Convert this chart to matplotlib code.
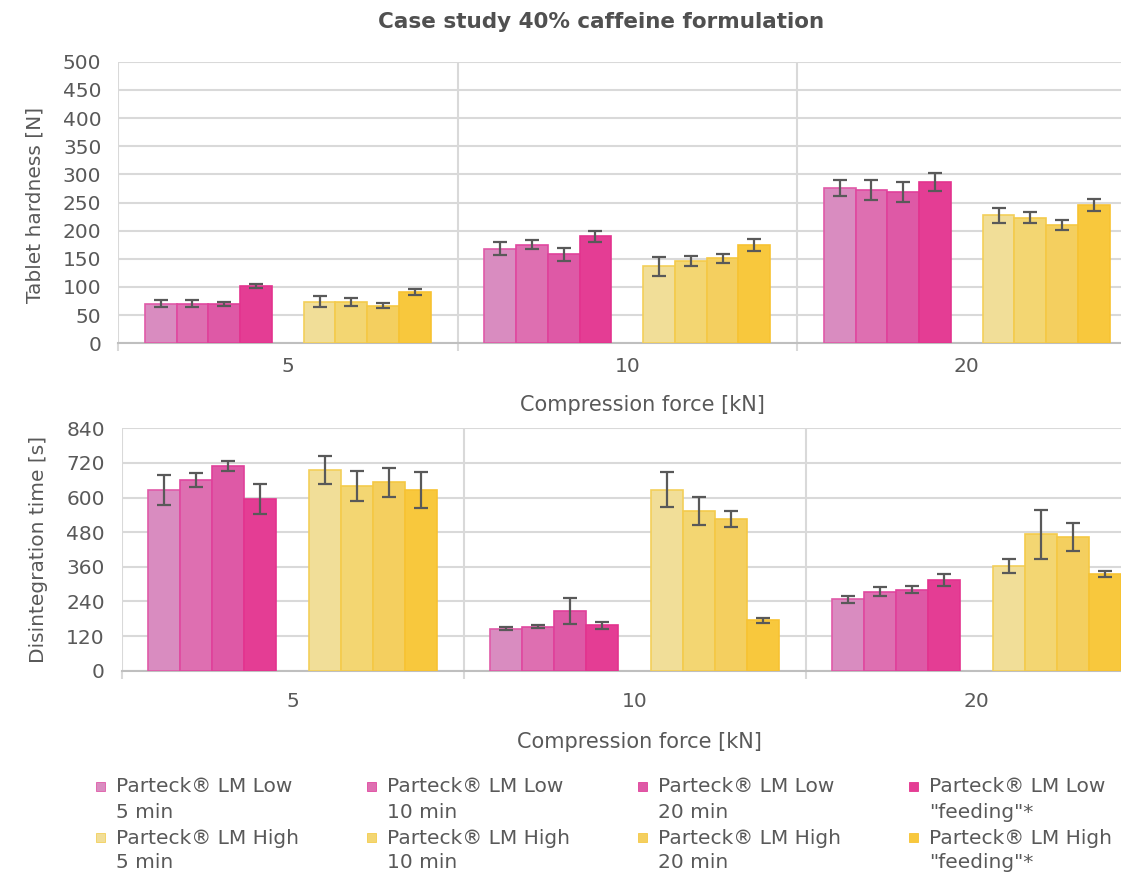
import matplotlib
matplotlib.use("Agg")
import matplotlib.pyplot as plt
from matplotlib.patches import Rectangle
import numpy as np

FIG_W, FIG_H = 1121, 874
TEXT_COLOR = "#595959"
GRID_COLOR = "#d9d9d9"
FS = 14.5

forces = ["5", "10", "20"]

series_labels = [
    "Parteck® LM Low\n5 min",
    "Parteck® LM Low\n10 min",
    "Parteck® LM Low\n20 min",
    "Parteck® LM Low\n\"feeding\"*",
    "Parteck® LM High\n5 min",
    "Parteck® LM High\n10 min",
    "Parteck® LM High\n20 min",
    "Parteck® LM High\n\"feeding\"*",
]

# tablet hardness [N], per series, for 5 / 10 / 20 kN
hardness_mean = [
    [70, 168, 276],
    [70, 175, 272],
    [70, 158, 269],
    [102, 190, 287],
    [74, 137, 227],
    [74, 146, 223],
    [67, 151, 210],
    [91, 175, 246],
]
hardness_err = [
    [6, 11, 14],
    [6, 8, 18],
    [4, 11, 18],
    [4, 10, 16],
    [10, 17, 14],
    [7, 9, 10],
    [4, 8, 9],
    [6, 11, 11],
]

# disintegration time [s]
disint_mean = [
    [627, 145, 247],
    [661, 153, 274],
    [708, 207, 281],
    [594, 158, 315],
    [695, 627, 363],
    [641, 553, 472],
    [653, 526, 464],
    [626, 175, 335],
]
disint_err = [
    [52, 5, 11],
    [25, 4, 15],
    [17, 45, 12],
    [52, 12, 21],
    [48, 61, 25],
    [52, 48, 85],
    [51, 28, 49],
    [61, 8, 11],
]

fills = ["#d98cc0", "#de6fb1", "#de59a6", "#e43d94",
         "#f1de98", "#f3d672", "#f4cf5f", "#f8c83d"]
edges = ["#e05aa8", "#e0489f", "#e0409a", "#e3338e",
         "#f3cf5a", "#f4cb4c", "#f5c844", "#f7c232"]
slots = [0, 1, 2, 3, 5, 6, 7, 8]


def px_axes(left, top, right, bottom):
    return [left / FIG_W, 1 - bottom / FIG_H, (right - left) / FIG_W, (bottom - top) / FIG_H]


def draw_panel(ax, means, errs, ymax, ystep, ylabel, xright, xpad):
    x = np.arange(len(forces))
    width = 0.0936
    for i in range(len(means)):
        off = (slots[i] - 4) * width
        ax.bar(x + off, means[i], width, color=fills[i], edgecolor=edges[i],
               linewidth=1.2, zorder=3)
        ax.errorbar(x + off, means[i], yerr=errs[i], fmt="none", ecolor="#595959",
                    elinewidth=1.6, capsize=5, capthick=1.6, zorder=4)

    ax.set_xlim(-0.5, xright)
    ax.set_ylim(0, ymax)
    ax.set_yticks(np.arange(0, ymax + 1, ystep))
    ax.set_xticks(x)
    ax.set_xticklabels(forces)
    ax.set_xticks([-0.5, 0.5, 1.5], minor=True)

    ax.yaxis.grid(True, color=GRID_COLOR, linewidth=1.5)
    ax.xaxis.grid(True, which="minor", color=GRID_COLOR, linewidth=1.5)
    ax.set_axisbelow(True)

    for s in ["top", "right", "left"]:
        ax.spines[s].set_visible(False)
    ax.spines["bottom"].set_color("#bfbfbf")
    ax.spines["bottom"].set_linewidth(1.5)

    ax.tick_params(axis="y", length=0, pad=12, labelsize=FS, labelcolor=TEXT_COLOR)
    ax.tick_params(axis="x", which="major", length=0, pad=xpad, labelsize=FS,
                   labelcolor=TEXT_COLOR)
    ax.tick_params(axis="x", which="minor", length=6, width=1.5, color=GRID_COLOR,
                   direction="out")
    ax.set_ylabel(ylabel, fontsize=FS, color=TEXT_COLOR)
    ax.set_xlabel("Compression force [kN]", fontsize=FS + 0.5, color=TEXT_COLOR)


fig = plt.figure(figsize=(FIG_W / 100, FIG_H / 100), dpi=100)

ax1 = fig.add_axes(px_axes(118, 61.7, FIG_W, 343.3))
draw_panel(ax1, hardness_mean, hardness_err, 500, 50, "Tablet hardness [N]",
           (FIG_W - 118) / 339.5 - 0.5, 10)
ax1.xaxis.set_label_coords(0.523, -0.219)
ax1.xaxis.label.set_va("center")
ax1.yaxis.set_label_coords(-0.083, 0.491)
ax1.yaxis.label.set_va("center")

ax2 = fig.add_axes(px_axes(121.5, 428.3, FIG_W, 670.7))
draw_panel(ax2, disint_mean, disint_err, 840, 120, "Disintegration time [s]",
           (FIG_W - 121.5) / 342 - 0.5, 15)
ax2.xaxis.set_label_coords(0.518, -0.294)
ax2.xaxis.label.set_va("center")
ax2.yaxis.set_label_coords(-0.0835, 0.502)
ax2.yaxis.label.set_va("center")

fig.text(601 / FIG_W, 1 - 22 / FIG_H, "Case study 40% caffeine formulation",
         ha="center", va="center", fontsize=15.5, fontweight="bold", color="#505050")

# legend: 4 columns, low series on the first row, high series on the second
for i, label in enumerate(series_labels):
    col = i % 4
    row = i // 4
    tx = 116 + 271 * col
    ty = 787 + 51 * row
    fig.add_artist(Rectangle(((tx - 20) / FIG_W, 1 - (ty + 4) / FIG_H), 9 / FIG_W, 9 / FIG_H,
                             transform=fig.transFigure, facecolor=fills[i],
                             edgecolor=edges[i], linewidth=0.6))
    first, second = label.split("\n")
    fig.text(tx / FIG_W, 1 - ty / FIG_H, first, ha="left", va="center",
             fontsize=FS, color=TEXT_COLOR)
    fig.text(tx / FIG_W, 1 - (ty + 25) / FIG_H, second, ha="left", va="center",
             fontsize=FS, color=TEXT_COLOR)

fig.savefig("out.png", dpi=100)
